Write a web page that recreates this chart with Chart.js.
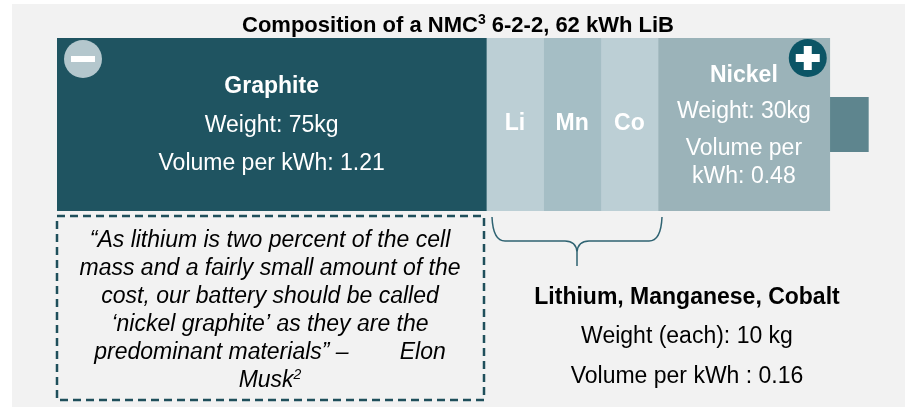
<!DOCTYPE html>
<html>
<head>
<meta charset="utf-8">
<title>Composition of a NMC 6-2-2 LiB</title>
<script src="https://cdn.jsdelivr.net/npm/chart.js@4/dist/chart.umd.min.js"></script>
<style>
    html, body { margin: 0; padding: 0; background: #ffffff; }
    #batteryChart { display: block; }
</style>
</head>
<body>
<canvas id="batteryChart" width="905" height="407"></canvas>
<script>
// Battery composition (weight in kg)
const categories = ['NMC 6-2-2'];
const materials = ['Graphite', 'Li', 'Mn', 'Co', 'Nickel'];
const weights = [75, 10, 10, 10, 30];
const terminalWidth = [6.8];   // the small + cap on the right end

const segmentColors = ['#1f5461', '#bccfd5', '#a5bec5', '#bccfd5', '#9bb3b9'];
const terminalColor = '#5e858e';

const FONT = '"Liberation Sans", Arial, sans-serif';

const quoteLines = [
    '\u201cAs lithium is two percent of the cell',
    'mass and a fairly small amount of the',
    'cost, our battery should be called',
    '\u2018nickel graphite\u2019 as they are the',
    'predominant materials\u201d \u2013        Elon'
];

// Background + all the annotation text
const annotations = {
    id: 'annotations',
    beforeDraw(chart) {
        const ctx = chart.ctx;
        ctx.save();
        ctx.fillStyle = '#f2f2f2';
        ctx.fillRect(12, 4, chart.width - 12, chart.height - 4);
        ctx.restore();
    },
    afterDatasetsDraw(chart) {
        const ctx = chart.ctx;
        const bar = i => chart.getDatasetMeta(i).data[0];
        const mid = el => (el.x + el.base) / 2;

        ctx.save();
        ctx.textAlign = 'center';
        ctx.textBaseline = 'alphabetic';

        // Title with superscript
        drawSup(ctx, 'Composition of a NMC', '3', ' 6-2-2, 62 kWh LiB', 458, 32, 22, true, false, '#000');

        // Graphite
        const g = bar(0);
        ctx.fillStyle = '#ffffff';
        ctx.font = 'bold 23px ' + FONT;
        ctx.fillText('Graphite', mid(g), 93);
        ctx.font = '23px ' + FONT;
        ctx.fillText('Weight: 75kg', mid(g), 132);
        ctx.fillText('Volume per kWh: 1.21', mid(g), 170);

        // Li / Mn / Co
        ctx.font = 'bold 23px ' + FONT;
        for (let i = 1; i <= 3; i++) {
            ctx.fillText(materials[i], mid(bar(i)), 130);
        }

        // Nickel
        const n = bar(4);
        ctx.fillText('Nickel', mid(n), 82);
        ctx.font = '23px ' + FONT;
        ctx.fillText('Weight: 30kg', mid(n), 118);
        ctx.fillText('Volume per', mid(n), 155);
        ctx.fillText('kWh: 0.48', mid(n), 183);

        // Minus sign on the graphite end
        const top = g.y - g.height / 2;
        drawCircle(ctx, g.base + 26, top + 21, 19, '#b4c7cd');
        ctx.fillStyle = '#ffffff';
        ctx.fillRect(g.base + 14, top + 18, 24, 6);

        // Plus sign on the nickel end
        const px = n.x - 22, py = top + 20;
        drawCircle(ctx, px, py, 19, '#0b5566');
        ctx.fillStyle = '#ffffff';
        ctx.fillRect(px - 12, py - 4, 24, 8);
        ctx.fillRect(px - 4, py - 12, 8, 24);

        // Quote box
        ctx.strokeStyle = '#1f4f5b';
        ctx.lineWidth = 2.5;
        ctx.setLineDash([8, 5]);
        ctx.strokeRect(57, 216, 427, 184);
        ctx.setLineDash([]);

        ctx.fillStyle = '#000000';
        ctx.font = 'italic 23px ' + FONT;
        quoteLines.forEach((line, i) => {
            ctx.fillText(line, 270, 247 + i * 28);
        });
        drawSup(ctx, 'Musk', '2', '', 270, 387, 23, false, true, '#000');

        // Brace under Li / Mn / Co
        ctx.strokeStyle = '#2f6372';
        ctx.lineWidth = 1.5;
        ctx.beginPath();
        ctx.moveTo(492, 217);
        ctx.quadraticCurveTo(493, 241, 505, 241);
        ctx.lineTo(565, 241);
        ctx.quadraticCurveTo(576, 241, 577, 252);
        ctx.lineTo(577, 266);
        ctx.moveTo(662, 217);
        ctx.quadraticCurveTo(661, 241, 649, 241);
        ctx.lineTo(589, 241);
        ctx.quadraticCurveTo(578, 241, 577, 252);
        ctx.stroke();

        // Lithium, Manganese, Cobalt note
        ctx.fillStyle = '#000000';
        ctx.font = 'bold 23px ' + FONT;
        ctx.fillText('Lithium, Manganese, Cobalt', 687, 304);
        ctx.font = '23px ' + FONT;
        ctx.fillText('Weight (each): 10 kg', 687, 343);
        ctx.fillText('Volume per kWh : 0.16', 687, 383);

        ctx.restore();
    }
};

function drawCircle(ctx, x, y, r, color) {
    ctx.fillStyle = color;
    ctx.beginPath();
    ctx.arc(x, y, r, 0, Math.PI * 2);
    ctx.fill();
}

// Text with a superscript part, centered on cx
function drawSup(ctx, before, sup, after, cx, y, size, bold, italic, color) {
    const style = (italic ? 'italic ' : '') + (bold ? 'bold ' : '');
    const big = style + size + 'px ' + FONT;
    const small = style + Math.round(size * 0.62) + 'px ' + FONT;
    ctx.font = big;
    const w1 = ctx.measureText(before).width;
    const w3 = ctx.measureText(after).width;
    ctx.font = small;
    const w2 = ctx.measureText(sup).width;
    let x = cx - (w1 + w2 + w3) / 2;
    ctx.save();
    ctx.textAlign = 'left';
    ctx.fillStyle = color;
    ctx.font = big;
    ctx.fillText(before, x, y);
    x += w1;
    ctx.font = small;
    ctx.fillText(sup, x, y - size * 0.36);
    x += w2;
    ctx.font = big;
    ctx.fillText(after, x, y);
    ctx.restore();
}

const datasets = materials.map((m, i) => ({
    label: m,
    data: [weights[i]],
    backgroundColor: segmentColors[i],
    borderWidth: 0,
    categoryPercentage: 1,
    barPercentage: 1
}));
datasets.push({
    label: 'Terminal',
    data: terminalWidth,
    backgroundColor: terminalColor,
    borderWidth: 0,
    categoryPercentage: 1,
    barPercentage: 0.318
});

new Chart(document.getElementById('batteryChart'), {
    type: 'bar',
    data: {
        labels: categories,
        datasets: datasets
    },
    options: {
        indexAxis: 'y',
        responsive: false,
        animation: false,
        layout: {
            padding: { left: 57, right: 18, top: 38, bottom: 196 }
        },
        scales: {
            x: { stacked: true, min: 0, max: 145, display: false },
            y: { stacked: true, display: false }
        },
        plugins: {
            legend: { display: false },
            tooltip: { enabled: false }
        }
    },
    plugins: [annotations]
});
</script>
</body>
</html>
